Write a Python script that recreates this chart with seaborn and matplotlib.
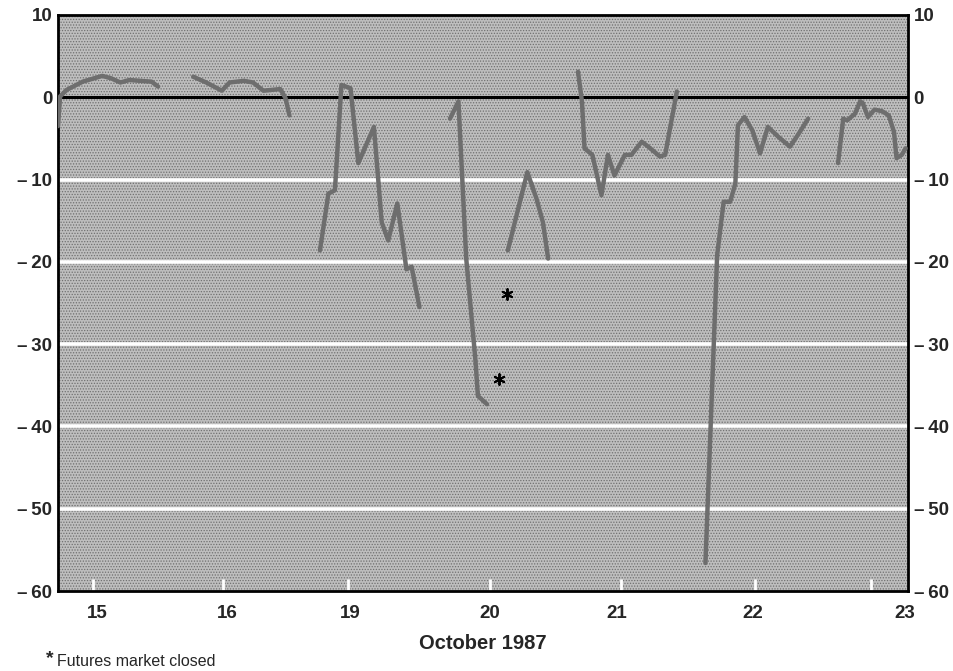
import matplotlib
matplotlib.use("Agg")
import matplotlib.pyplot as plt
import seaborn as sns
import pandas as pd
import numpy as np

# x in trading-day units (0 = left edge of the chart), y = premium/discount
oct15_t = [0.00, 0.016, 0.067, 0.19, 0.34, 0.41, 0.48, 0.55, 0.63, 0.72, 0.77]
oct15_v = [-3.5, 0.1, 0.9, 1.9, 2.6, 2.3, 1.8, 2.1, 2.0, 1.9, 1.3]

oct16_t = [1.04, 1.14, 1.26, 1.32, 1.43, 1.50, 1.58, 1.71, 1.75, 1.78]
oct16_v = [2.5, 1.8, 0.8, 1.8, 2.0, 1.8, 0.8, 1.0, -0.1, -2.2]

oct19_t = [2.015, 2.08, 2.13, 2.18, 2.25, 2.31, 2.43, 2.49, 2.54, 2.61, 2.68, 2.72, 2.78]
oct19_v = [-18.6, -11.7, -11.3, 1.5, 1.1, -8.0, -3.6, -15.2, -17.4, -12.9, -20.9, -20.6, -25.5]

oct20a_t = [3.015, 3.08, 3.14, 3.21, 3.23, 3.30]
oct20a_v = [-2.6, -0.5, -19.6, -31.8, -36.3, -37.3]

oct20b_t = [3.46, 3.61, 3.68, 3.73, 3.77]
oct20b_v = [-18.6, -9.1, -12.3, -15.2, -19.6]

oct21_t = [4.00, 4.03, 4.05, 4.11, 4.18, 4.23, 4.28, 4.36, 4.41, 4.49, 4.54, 4.63, 4.67, 4.76]
oct21_v = [3.1, -0.5, -6.2, -7.0, -11.9, -7.0, -9.5, -7.0, -7.0, -5.4, -6.0, -7.2, -7.0, 0.7]

oct22_t = [4.98, 5.07, 5.12, 5.17, 5.21, 5.23, 5.28, 5.34, 5.40, 5.46, 5.54, 5.63, 5.69, 5.77]
oct22_v = [-56.6, -19.2, -12.7, -12.7, -10.5, -3.4, -2.4, -4.0, -6.8, -3.6, -4.8, -6.0, -4.6, -2.6]

oct23_t = [6.00, 6.04, 6.07, 6.13, 6.17, 6.19, 6.23, 6.28, 6.34, 6.39, 6.43, 6.45, 6.49, 6.52]
oct23_v = [-8.0, -2.6, -2.8, -2.0, -0.5, -0.7, -2.4, -1.5, -1.7, -2.2, -4.2, -7.4, -7.0, -6.2]

closed_t = [3.45, 3.39]
closed_v = [-23.9, -34.2]

day_labels = ["15", "16", "19", "20", "21", "22", "23"]
label_pos = [0.30, 1.30, 2.246, 3.323, 4.30, 5.346, 6.515]
mark_pos = [0.27, 1.27, 2.23, 3.32, 4.33, 5.36, 6.25]
y_ticks = [10, 0, -10, -20, -30, -40, -50, -60]

segments = [
    ("15", oct15_t, oct15_v), ("16", oct16_t, oct16_v), ("19", oct19_t, oct19_v),
    ("20a", oct20a_t, oct20a_v), ("20b", oct20b_t, oct20b_v), ("21", oct21_t, oct21_v),
    ("22", oct22_t, oct22_v), ("23", oct23_t, oct23_v),
]
df = pd.concat([pd.DataFrame({"seg": s, "t": t, "v": v}) for s, t, v in segments],
               ignore_index=True)

sns.set_theme(style="white")
plt.rcParams["font.family"] = ["Liberation Sans", "DejaVu Sans"]
plt.rcParams["hatch.linewidth"] = 0.6

fig = plt.figure(figsize=(9.54, 6.71), dpi=100)
ax = fig.add_axes([58 / 954, 1 - 591 / 671, (908 - 58) / 954, (591 - 15) / 671])
ax.set_facecolor("#bebebe")
ax.add_patch(plt.Rectangle((0, 0), 1, 1, transform=ax.transAxes, facecolor="none",
                           edgecolor="#707070", hatch="......", lw=0, zorder=0))

for g in [-10, -20, -30, -40, -50]:
    ax.axhline(g, color="white", lw=2.6, zorder=1)
ax.axhline(0, color="black", lw=2.2, zorder=2)

sns.lineplot(data=df, x="t", y="v", units="seg", estimator=None, sort=False,
             color="#6e6e6e", lw=3.2, ax=ax, zorder=3, legend=False)
sns.scatterplot(x=closed_t, y=closed_v, marker=(6, 2, 0), s=60, color="black",
                linewidth=1.4, edgecolor="black", ax=ax, zorder=4)

ax.set_xlim(0, 6.538)
ax.set_ylim(-60, 10)
ax.set_yticks(y_ticks)
ylabels = [str(v) if v >= 0 else "\u2013\u2009" + str(abs(v)) for v in y_ticks]
ax.set_yticklabels(ylabels)
ax.tick_params(axis="y", which="both", length=0, labelsize=13.5, pad=4,
               labelright=True, right=False, left=False)
for lab in ax.get_yticklabels():
    lab.set_fontweight("bold")

ax.set_xticks(label_pos)
ax.set_xticklabels(day_labels, fontsize=13.5, fontweight="bold")
ax.tick_params(axis="x", which="major", length=0, pad=10)
ax.set_xticks(mark_pos, minor=True)
ax.tick_params(axis="x", which="minor", direction="in", length=9, width=2,
               color="white", bottom=True)
ax.set_xlabel("October 1987", fontsize=14.5, fontweight="bold", labelpad=9)
ax.set_ylabel("")

for sp in ax.spines.values():
    sp.set_visible(True)
    sp.set_color("black")
    sp.set_linewidth(2)

fig.text(46 / 954, 1 - 659 / 671, "*", fontsize=14, fontweight="bold", va="center", ha="left")
fig.text(57 / 954, 1 - 661 / 671, "Futures market closed", fontsize=11.5, va="center", ha="left")

fig.savefig("out.png", dpi=100)
